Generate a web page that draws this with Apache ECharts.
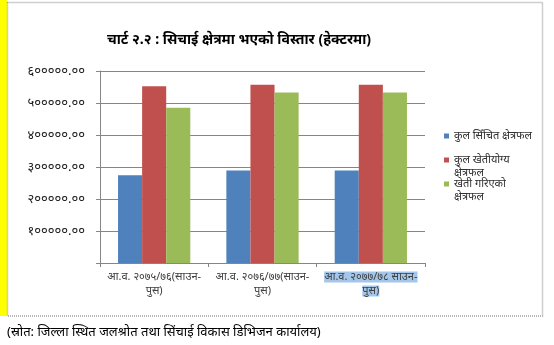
<!DOCTYPE html>
<html>
<head>
<meta charset="utf-8">
<style>
  html, body { margin: 0; padding: 0; background: #ffffff; }
  #chart { width: 554px; height: 345px; }
</style>
<script src="https://cdn.jsdelivr.net/npm/echarts@6/dist/echarts.min.js"></script>
</head>
<body>
<div id="chart"></div>
<script>
// Fiscal-year categories (Shrawan–Poush of each year)
const categories = [
  'आ.व. २०७५/७६(साउन-\nपुस)',
  'आ.व. २०७६/७७(साउन-\nपुस)',
  'आ.व. २०७७/७८ साउन-\nपुस)'
];
// Area in hectares
const irrigatedArea   = [274000, 289000, 289000];
const cultivableArea  = [552500, 557000, 557000];
const cultivatedArea  = [485000, 533000, 533000];

const seriesNames = ['कुल सिँचित क्षेत्रफल', 'कुल खेतीयोग्य\nक्षेत्रफल', 'खेती गरिएको\nक्षेत्रफल'];
const titleText = 'चार्ट २.२ : सिचाई क्षेत्रमा भएको विस्तार (हेक्टरमा)';
const sourceText = '(स्रोत: जिल्ला स्थित जलश्रोत तथा सिंचाई विकास डिभिजन कार्यालय)';

const devaDigits = '०१२३४५६७८९';
function toDeva(s) {
  return String(s).replace(/[0-9]/g, d => devaDigits[+d]);
}

const fontFamily = '"Noto Sans", "Noto Sans Devanagari", "Lohit Devanagari", "FreeSans", sans-serif';

// one legend block per series so every entry sits on its own row;
// two-line names get an empty first line so the swatch is level
// with the first line of text
function legendBlock(name, top, twoLine) {
  return {
    orient: 'vertical',
    left: 444, top: top, padding: 0,
    itemWidth: 5, itemHeight: 5,
    icon: 'rect',
    formatter: twoLine ? function (n) { return ' \n' + n; } : '{name}',
    textStyle: { fontSize: 11, color: '#303030', lineHeight: 13, fontFamily: fontFamily },
    data: [name]
  };
}

const chart = echarts.init(document.getElementById('chart'), null, { renderer: 'canvas' });
chart.setOption({
  animation: false,
  backgroundColor: '#ffffff',
  textStyle: { fontFamily: fontFamily },
  title: [
    {
      text: titleText,
      left: 102, top: 28,
      textStyle: { fontSize: 14, fontWeight: 'bold', color: '#000000', fontFamily: fontFamily }
    },
    {
      text: sourceText,
      left: 2, top: 321,
      textStyle: { fontSize: 13, fontWeight: 'normal', color: '#000000', fontFamily: fontFamily }
    }
  ],
  graphic: [
    { type: 'rect', shape: { x: 0, y: 0, width: 7, height: 316 }, style: { fill: '#ffff00' }, z: 0 },
    { type: 'rect', shape: { x: 7.5, y: 2.5, width: 535, height: 313.5 },
      style: { fill: 'none', stroke: '#a0a0a0', lineWidth: 1.5, lineDash: [1, 1] }, z: 0 }
  ],
  legend: [
    legendBlock(seriesNames[0], 129.5, false),
    legendBlock(seriesNames[1], 140.5, true),
    legendBlock(seriesNames[2], 164.5, true)
  ],
  grid: { left: 100, top: 71, width: 325, height: 192, containLabel: false },
  xAxis: {
    type: 'category',
    data: categories,
    axisLine: { lineStyle: { color: '#868686', width: 1 } },
    axisTick: { show: true, length: 4, lineStyle: { color: '#868686' } },
    axisLabel: {
      interval: 0, margin: 7, fontSize: 11, color: '#404040', lineHeight: 14,
      formatter: function (value, idx) {
        if (idx === 2) {
          return value.split('\n').map(l => '{hl|' + l + '}').join('\n');
        }
        return value;
      },
      rich: {
        hl: { backgroundColor: '#a3c6ea', color: '#404040', fontSize: 11, lineHeight: 14 }
      }
    }
  },
  yAxis: {
    type: 'value',
    min: 0, max: 600000, interval: 100000,
    axisLine: { show: true, lineStyle: { color: '#868686', width: 1 } },
    axisTick: { show: true, length: 4, lineStyle: { color: '#868686' } },
    splitLine: { lineStyle: { color: '#868686', width: 1 } },
    axisLabel: {
      margin: 15, fontSize: 13, color: '#202020',
      formatter: function (v) { return v === 0 ? '' : toDeva(v.toFixed(2)); }
    }
  },
  series: [
    { name: seriesNames[0], type: 'bar', data: irrigatedArea, barGap: '0%', barCategoryGap: '33.3%', itemStyle: { color: '#4f81bd' } },
    { name: seriesNames[1], type: 'bar', data: cultivableArea, barGap: '0%', barCategoryGap: '33.3%', itemStyle: { color: '#c0504d' } },
    { name: seriesNames[2], type: 'bar', data: cultivatedArea, barGap: '0%', barCategoryGap: '33.3%', itemStyle: { color: '#9bbb59' } }
  ]
});
</script>
</body>
</html>
